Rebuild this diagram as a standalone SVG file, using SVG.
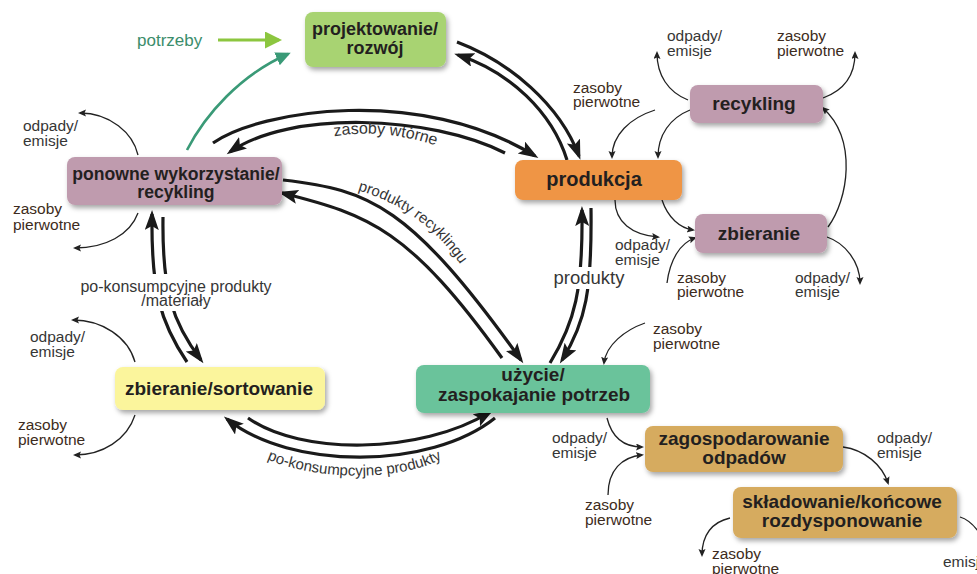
<svg xmlns="http://www.w3.org/2000/svg" width="977" height="574" viewBox="0 0 977 574">
<defs>
<style>
.box{filter:url(#sh)}
.nt{font-family:"Liberation Sans",Arial,sans-serif;font-weight:bold;font-size:19px;fill:#231f20;text-anchor:middle}
.lb{font-family:"Liberation Sans",Arial,sans-serif;font-size:15.5px;fill:#363636}
.zp{fill:#3d2b20}
.thick{fill:none;stroke:#1a1a1a;stroke-width:3.2;marker-end:url(#ab)}
.thin{fill:none;stroke:#222;stroke-width:1.3;marker-end:url(#as)}
</style>
<filter id="sh" x="-10%" y="-20%" width="130%" height="160%">
<feDropShadow dx="2" dy="3" stdDeviation="2.5" flood-color="#000" flood-opacity="0.35"/>
</filter>
<marker id="ab" markerUnits="userSpaceOnUse" markerWidth="22" markerHeight="16" refX="16" refY="7" orient="auto">
<path d="M0,0 L20,7 L0,14 L4,7 z" fill="#1a1a1a"/>
</marker>
<marker id="as" markerUnits="userSpaceOnUse" markerWidth="10" markerHeight="8" refX="6" refY="3.5" orient="auto">
<path d="M0,0 L8,3.5 L0,7 L1.5,3.5 z" fill="#222"/>
</marker>
<marker id="ag" markerUnits="userSpaceOnUse" markerWidth="19" markerHeight="18" refX="14" refY="8.5" orient="auto">
<path d="M0,0 L17,8.5 L0,17 z" fill="#8cc63f"/>
</marker>
<marker id="at" markerUnits="userSpaceOnUse" markerWidth="17" markerHeight="15" refX="12" refY="7" orient="auto">
<path d="M0,0 L15,7 L0,14 z" fill="#3a9a77"/>
</marker>
<path id="tp1" d="M350,188 C395,200 440,225 472,283"/>
<path id="tp2" d="M262,457 C310,480 400,484 447,456"/>
<path id="tp3" d="M330,137 Q383,127 440,147"/>
</defs>
<rect width="977" height="574" fill="#ffffff"/>

<g id="connectors">
<path d="M218,40 L279,40" fill="none" stroke="#8cc63f" stroke-width="3" marker-end="url(#ag)"/>
<path d="M187,150 C205,115 240,75 288,54" fill="none" stroke="#3a9a77" stroke-width="2.6" marker-end="url(#at)"/>
<path class="thick" d="M457,42 C510,62 560,105 579,156"/>
<path class="thick" d="M567,160 C552,112 510,72 458,55"/>
<path class="thick" d="M213,143 C260,110 420,85 535,156"/>
<path class="thick" d="M505,153 C430,115 290,110 230,152"/>
<path class="thick" d="M283,180 C370,190 410,205 521,360"/>
<path class="thick" d="M502,358 C410,230 370,215 282,193"/>
<path class="thick" d="M550,363 C575,322 583,290 582,210"/>
<path class="thick" d="M591,208 C592,290 586,322 562,360"/>
<path class="thick" d="M187,362 C160,322 151,290 152,214"/>
<path class="thick" d="M163,217 C162,290 172,322 201,360"/>
<path class="thick" d="M248,418 C300,455 420,455 490,412"/>
<path class="thick" d="M495,418 C430,470 290,470 227,419"/>
<path class="thin" d="M138,155 C133,133 110,113 80,113"/>
<path class="thin" d="M138,213 C130,235 105,248 75,248"/>
<path class="thin" d="M135,362 C128,337 102,320 73,320"/>
<path class="thin" d="M135,415 C127,440 102,455 75,455"/>
<path class="thin" d="M655,110 C630,118 612,135 612,157"/>
<path class="thin" d="M690,110 C670,118 658,135 658,157"/>
<path class="thin" d="M615,200 C615,222 632,235 658,237"/>
<path class="thin" d="M662,200 C668,218 680,228 693,230"/>
<path class="thin" d="M667,283 C670,260 680,243 695,238"/>
<path class="thin" d="M827,237 C845,243 860,262 860,283"/>
<path class="thin" d="M828,227 C848,200 858,140 823,108"/>
<path class="thin" d="M688,100 C668,92 657,75 657,53"/>
<path class="thin" d="M823,98 C845,90 855,75 855,53"/>
<path class="thin" d="M645,323 C625,330 606,345 604,363"/>
<path class="thin" d="M607,418 C612,438 625,447 642,447"/>
<path class="thin" d="M608,495 C608,470 622,457 642,455"/>
<path class="thin" d="M843,447 C865,450 882,465 888,483"/>
<path class="thin" d="M730,518 C712,522 702,535 702,555"/>
<path d="M960,517 C970,520 976,527 982,537" fill="none" stroke="#222" stroke-width="1.3"/>
</g>

<g id="labels">
<text x="137" y="46" font-family="'Liberation Sans',Arial,sans-serif" font-size="17" fill="#3b8d6b">potrzeby</text>
<text class="lb" style="font-size:16px"><textPath href="#tp3" startOffset="50%" text-anchor="middle">zasoby wtórne</textPath></text>
<text class="lb" style="font-size:15px"><textPath href="#tp1" startOffset="8">produkty recyklingu</textPath></text>
<rect x="549" y="267" width="80" height="22" fill="#ffffff"/>
<text class="lb" x="589" y="284" style="font-size:18.5px" text-anchor="middle">produkty</text>
<rect x="76" y="274" width="200" height="37" fill="#ffffff"/>
<text class="lb" x="176" y="292" style="font-size:16px" text-anchor="middle">po-konsumpcyjne produkty<tspan x="176" dy="14">/materiały</tspan></text>
<text class="lb" style="font-size:15px"><textPath href="#tp2" startOffset="50%" text-anchor="middle">po-konsumpcyjne produkty</textPath></text>

<text class="lb" x="23" y="131">odpady/<tspan x="23" dy="15">emisje</tspan></text>
<text class="lb zp" x="13" y="214">zasoby<tspan x="13" dy="16">pierwotne</tspan></text>
<text class="lb" x="30" y="342">odpady/<tspan x="30" dy="15">emisje</tspan></text>
<text class="lb zp" x="18" y="430">zasoby<tspan x="18" dy="15">pierwotne</tspan></text>
<text class="lb" x="667" y="41">odpady/<tspan x="667" dy="15">emisje</tspan></text>
<text class="lb zp" x="777" y="41">zasoby<tspan x="777" dy="15">pierwotne</tspan></text>
<text class="lb zp" x="573" y="93">zasoby<tspan x="573" dy="14">pierwotne</tspan></text>
<text class="lb" x="615" y="250">odpady/<tspan x="615" dy="15">emisje</tspan></text>
<text class="lb zp" x="677" y="283">zasoby<tspan x="677" dy="14">pierwotne</tspan></text>
<text class="lb" x="795" y="283">odpady/<tspan x="795" dy="14">emisje</tspan></text>
<text class="lb zp" x="653" y="334">zasoby<tspan x="653" dy="15">pierwotne</tspan></text>
<text class="lb" x="552" y="443">odpady/<tspan x="552" dy="15">emisje</tspan></text>
<text class="lb zp" x="585" y="510">zasoby<tspan x="585" dy="15">pierwotne</tspan></text>
<text class="lb" x="877" y="443">odpady/<tspan x="877" dy="15">emisje</tspan></text>
<text class="lb zp" x="712" y="559">zasoby<tspan x="712" dy="15">pierwotne</tspan></text>
<text class="lb" x="943" y="567">emisj</text>
</g>

<g id="projektowanie">
<rect class="box" x="305" y="12" width="141" height="55" rx="8" fill="#a8d372"/>
<text class="nt" x="375" y="35" style="font-size:18px">projektowanie/<tspan x="375" dy="19">rozwój</tspan></text>
</g>
<g id="ponowne">
<rect class="box" x="67" y="157" width="215" height="48" rx="8" fill="#bf9bae"/>
<text class="nt" x="176" y="180" style="font-size:17.6px">ponowne wykorzystanie/<tspan x="176" dy="17.5">recykling</tspan></text>
</g>
<g id="produkcja">
<rect class="box" x="515" y="160" width="167" height="40" rx="8" fill="#ef9544"/>
<text class="nt" x="594" y="186" style="font-size:20px">produkcja</text>
</g>
<g id="recykling">
<rect class="box" x="690" y="85" width="133" height="38" rx="8" fill="#bf9bae"/>
<text class="nt" x="754" y="110">recykling</text>
</g>
<g id="zbieranie">
<rect class="box" x="695" y="214" width="132" height="39" rx="8" fill="#bf9bae"/>
<text class="nt" x="759" y="240">zbieranie</text>
</g>
<g id="zbieranie-sortowanie">
<rect class="box" x="115" y="367" width="210" height="43" rx="8" fill="#fbf59c"/>
<text class="nt" x="219" y="395">zbieranie/sortowanie</text>
</g>
<g id="uzycie">
<rect class="box" x="416" y="365" width="234" height="48" rx="8" fill="#6bc39b"/>
<text class="nt" x="533" y="381">użycie/<tspan x="534" dy="20">zaspokajanie potrzeb</tspan></text>
</g>
<g id="zagospodarowanie">
<rect class="box" x="645" y="426" width="198" height="46" rx="8" fill="#d6ab5e"/>
<text class="nt" x="744" y="445">zagospodarowanie<tspan x="744" dy="19">odpadów</tspan></text>
</g>
<g id="skladowanie">
<rect class="box" x="733" y="487" width="224" height="51" rx="8" fill="#d6ab5e"/>
<text class="nt" x="842" y="508">składowanie/końcowe<tspan x="842" dy="19">rozdysponowanie</tspan></text>
</g>
</svg>
